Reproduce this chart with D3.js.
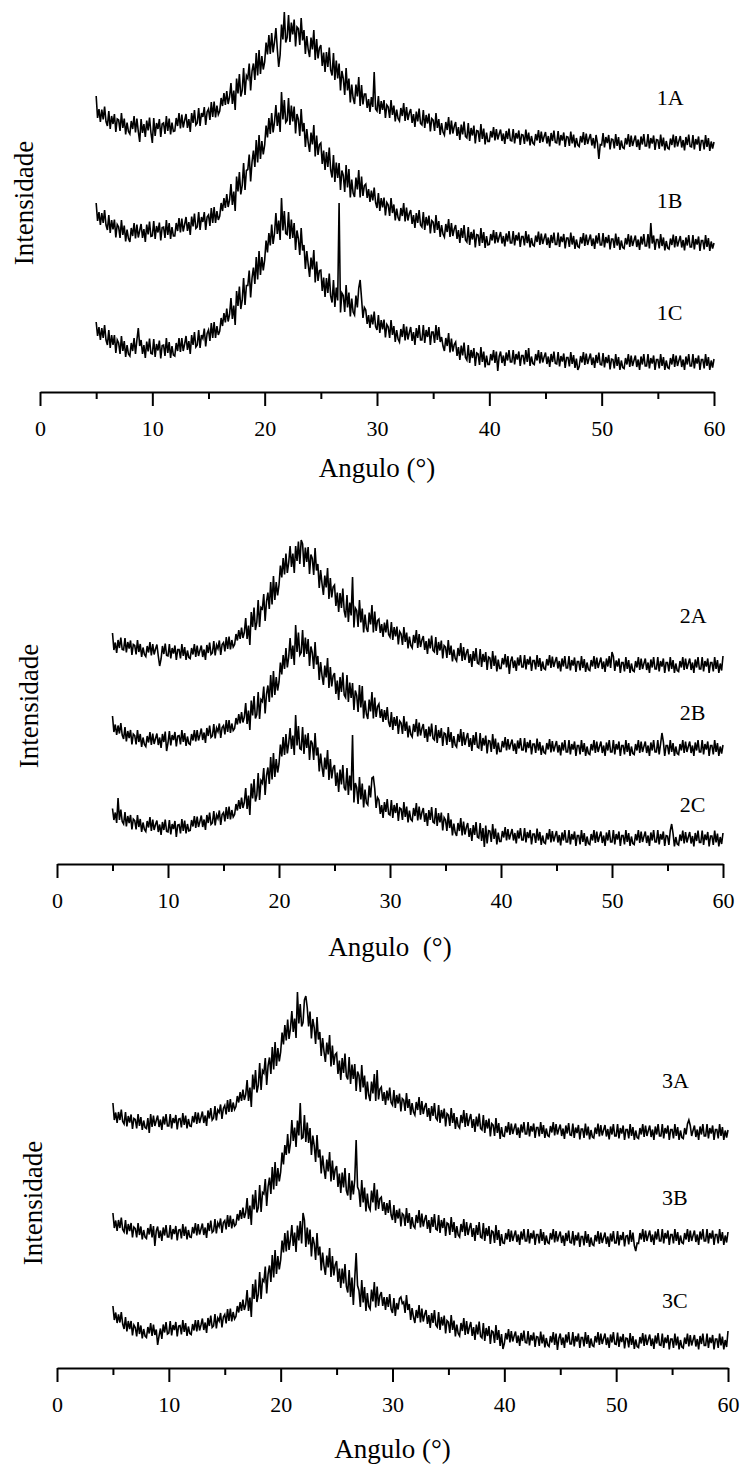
<!DOCTYPE html>
<html>
<head>
<meta charset="utf-8">
<script src="https://cdn.jsdelivr.net/npm/d3@7"></script>
<style>
  body { margin: 0; background: #fff; }
  svg text { font-family: "Liberation Serif", "Times New Roman", serif; fill: #000; white-space: pre; }
</style>
</head>
<body>
<svg id="chart" width="743" height="1465"></svg>
<script>
// XRD patterns, intensity (counts) sampled every 0.125 deg from 5 to 60 deg
const angleStart = 5
const angleStep = 0.125

const s1A = [
  592,548,566,540,565,545,571,541, 532,562,526,552,536,556,520,546,
  544,522,558,528,547,515,539,521, 516,542,526,552,519,547,521,500,
  546,518,536,510,543,523,549,519, 498,548,512,538,526,546,510,536,
  538,516,552,522,547,515,539,521, 522,548,532,558,527,555,529,543,
  556,528,546,520,558,538,564,534, 538,568,532,558,550,570,534,560,
  566,544,580,550,581,549,573,555, 562,588,572,598,574,602,576,590,
  618,576,603,564,627,597,636,591, 603,648,594,633,627,657,603,642,
  657,624,678,633,684,636,672,645, 660,699,675,714,676,718,679,700,
  728,686,650,674,735,705,760,699, 709,754,700,739,715,745,691,730,
  727,694,748,703,724,676,712,685, 670,709,685,724,664,706,667,688,
  694,652,679,640,680,650,689,644, 633,678,624,663,627,657,603,642,
  627,594,648,603,627,579,615,588, 576,615,591,630,572,614,575,596,
  596,568,586,560,590,570,640,566, 562,592,556,582,564,584,548,574,
  570,548,584,554,573,541,565,547, 542,568,552,578,542,570,544,558,
  566,538,556,530,561,541,567,537, 534,564,528,554,537,557,521,547,
  544,522,558,528,546,514,538,520, 514,540,524,550,515,543,517,531,
  540,512,530,504,535,515,541,511, 508,538,502,528,513,533,497,523,
  522,500,536,506,527,495,519,501, 501,522,509,530,503,526,505,516,
  525,502,517,496,522,506,527,503, 502,526,497,518,507,523,494,515,
  514,496,525,501,519,493,512,498, 495,516,503,524,498,521,500,511,
  520,497,512,491,518,502,523,499, 498,522,493,514,503,519,490,511,
  510,492,521,497,515,489,508,494, 491,512,499,520,494,517,496,507,
  516,493,508,487,514,498,466,495, 494,518,489,510,498,514,485,506,
  505,487,516,492,510,484,503,489, 487,508,495,516,490,513,492,503,
  513,490,505,484,511,495,516,492, 492,516,487,508,497,513,484,505,
  504,486,515,491,509,483,502,488, 486,507,494,515,489,512,491,502,
  512,489,504,483,510,494,515,491, 490,514,485,506,495,511,482,503,
  503,485,514,490,508,482,501,487,
  500]
const s1B = [
  378,342,360,334,358,338,364,334, 324,354,318,344,325,345,309,335,
  330,308,344,314,333,301,325,307, 300,328,312,338,307,335,309,323,
  336,308,326,300,335,315,341,311, 312,342,306,332,319,339,303,329,
  330,308,344,314,338,306,330,312, 312,338,322,348,319,347,321,335,
  350,322,340,314,351,331,357,327, 330,360,324,350,340,360,324,350,
  354,332,368,338,370,338,362,344, 352,378,362,388,368,396,370,384,
  416,374,401,362,431,401,440,395, 413,458,404,443,445,475,421,460,
  483,450,504,459,514,466,502,475, 494,533,509,548,516,558,519,540,
  574,532,559,520,600,545,584,539, 543,588,534,573,541,571,517,556,
  545,512,566,521,538,490,526,499, 480,519,495,534,471,513,474,495,
  498,456,483,444,480,450,489,444, 429,474,420,459,428,458,404,443,
  433,400,454,409,446,389,425,398, 390,429,405,444,389,431,392,413,
  416,388,406,380,403,383,409,379, 368,398,362,388,369,389,353,379,
  374,352,388,358,375,343,367,349, 342,368,352,378,341,369,343,357,
  364,336,354,328,358,338,364,334, 330,360,324,350,333,353,317,343,
  340,318,354,324,342,310,334,316, 310,336,320,346,310,338,312,326,
  334,306,324,298,328,308,334,304, 300,330,294,320,305,325,289,315,
  314,292,328,298,320,288,312,294, 295,316,303,324,297,320,299,310,
  320,297,312,291,317,301,322,298, 298,322,293,314,303,319,290,311,
  311,293,322,298,315,289,308,294, 292,313,300,321,294,317,296,307,
  317,294,309,288,314,298,319,295, 295,319,290,311,300,316,287,308,
  308,290,319,295,312,286,305,291, 289,310,297,318,292,315,294,305,
  315,292,307,286,313,297,318,294, 294,318,289,310,298,314,285,306,
  306,288,317,293,310,284,303,289, 287,308,295,316,290,313,292,303,
  313,290,305,284,311,295,316,292, 292,316,287,338,297,313,284,305,
  305,287,316,292,309,283,302,288, 286,307,294,315,289,312,291,302,
  312,289,304,283,309,293,314,290, 290,314,285,306,295,311,282,303,
  303,285,314,290,308,282,301,287,
  298]
const s1C = [
  140,112,130,104,128,108,134,104, 94,124,88,114,94,114,78,104,
  98,76,112,82,102,70,94,76, 72,98,82,108,76,104,128,92,
  104,76,94,68,101,81,107,77, 76,106,70,96,83,103,67,93,
  94,72,108,78,100,68,92,74, 72,98,82,108,80,108,82,96,
  112,84,102,76,114,94,120,90, 94,124,88,114,107,127,91,117,
  124,102,138,108,140,108,132,114, 122,148,132,158,139,167,141,155,
  188,146,173,134,202,172,211,166, 183,228,174,213,213,243,189,228,
  249,216,270,225,282,234,270,243, 264,303,279,318,293,335,296,317,
  358,316,343,304,388,323,362,317, 315,360,306,345,308,338,284,323,
  307,274,328,283,294,246,282,255, 230,269,245,284,219,261,222,243,
  244,202,229,190,228,198,237,192, 179,224,170,209,183,378,159,198,
  193,160,214,169,199,151,187,160, 154,193,169,208,224,187,148,169,
  164,136,154,128,155,135,161,131, 124,154,118,144,125,145,109,135,
  130,108,144,114,132,100,124,106, 100,126,110,136,103,131,105,119,
  130,102,120,94,128,108,134,104, 104,134,98,124,110,130,94,120,
  120,98,134,104,130,100,110,92, 82,108,92,118,79,107,81,95,
  100,72,90,64,93,73,99,69, 64,94,58,84,68,88,52,78,
  76,54,90,60,81,49,73,55, 55,76,63,84,58,81,42,71,
  81,58,73,52,79,63,84,60, 60,84,55,76,65,81,52,73,
  73,55,84,60,88,52,71,57, 55,76,63,84,57,80,59,70,
  79,56,71,50,76,60,81,57, 56,80,51,72,61,77,48,69,
  69,51,80,56,74,48,67,44, 51,72,59,80,54,77,56,67,
  77,54,69,48,74,58,79,55, 54,78,49,70,58,74,45,66,
  65,47,76,52,70,44,63,49, 47,68,55,76,50,73,52,63,
  73,50,65,44,71,55,76,52, 52,76,47,68,57,73,44,65,
  65,47,76,52,70,44,63,49, 47,68,55,76,50,73,52,63,
  73,50,65,44,71,55,76,52, 52,76,47,68,57,73,44,65,
  65,47,76,52,70,44,63,49,
  66]

const s2A = [
  462,428,443,422,448,432,453,429, 428,452,423,444,431,447,418,439,
  437,419,448,424,440,414,433,419, 415,436,423,444,417,440,419,430,
  439,416,396,410,436,420,441,417, 416,440,411,432,421,437,408,429,
  429,411,440,416,434,408,427,413, 411,432,419,440,414,437,416,427,
  437,414,429,408,438,422,443,419, 422,446,417,438,431,447,418,439,
  443,425,454,430,455,429,448,434, 439,460,447,468,450,473,452,463,
  492,450,477,438,504,474,513,468, 483,528,474,513,510,540,486,525,
  543,510,564,519,576,528,564,537, 558,597,573,612,579,621,582,603,
  636,594,621,582,636,606,645,600, 648,640,594,633,604,634,580,619,
  611,578,632,587,600,552,588,561, 538,577,553,592,530,572,533,554,
  558,516,543,504,542,512,551,506, 493,538,484,523,497,574,473,512,
  507,474,528,483,511,463,499,472, 464,503,479,518,463,505,466,487,
  490,462,480,454,483,463,489,459, 454,484,448,474,455,475,439,465,
  460,438,474,444,463,431,455,437, 432,458,442,468,432,460,434,448,
  456,428,446,420,451,431,457,427, 424,454,418,444,427,447,411,437,
  434,412,448,418,437,405,429,411, 406,432,416,442,406,434,408,422,
  430,402,420,394,426,406,432,402, 400,430,394,420,404,424,388,414,
  412,390,426,396,417,385,409,391, 391,412,399,420,393,416,380,406,
  415,392,407,386,413,397,418,394, 394,418,389,410,399,415,386,407,
  407,389,418,394,412,386,405,391, 389,410,397,418,392,415,394,405,
  414,391,406,385,411,395,416,392, 392,416,387,408,397,413,384,405,
  405,387,416,392,410,384,403,389, 387,408,395,416,390,413,392,403,
  413,390,405,384,411,395,416,392, 424,415,386,407,395,411,382,403,
  403,385,414,390,408,382,401,387, 385,406,393,414,388,411,390,401,
  411,388,403,382,409,393,414,390, 390,414,385,406,395,411,382,403,
  403,385,414,390,408,382,401,387, 385,406,393,414,388,411,390,401,
  411,388,403,382,409,393,414,390, 390,414,385,406,395,411,382,403,
  403,385,414,390,408,382,401,387,
  416]
const s2B = [
  296,264,279,258,277,261,282,258, 250,274,245,266,252,268,239,260,
  257,239,268,244,260,234,253,239, 235,256,243,264,238,261,240,251,
  261,238,253,232,260,244,265,226, 242,266,237,258,248,264,235,256,
  257,239,268,244,262,236,255,241, 239,260,247,268,245,268,247,258,
  271,248,263,242,272,256,277,253, 256,280,251,272,265,281,252,273,
  277,259,288,264,288,262,281,267, 271,292,279,300,281,304,283,294,
  322,280,307,268,327,297,336,291, 299,344,290,329,325,355,301,340,
  357,324,378,333,386,338,374,347, 364,403,379,418,390,432,393,414,
  452,410,437,398,478,424,463,418, 423,468,414,453,420,450,396,435,
  423,390,444,399,416,368,404,377, 358,397,373,412,352,394,355,376,
  382,340,367,328,374,344,383,338, 333,378,324,363,332,362,308,347,
  337,304,358,313,356,291,327,300, 290,329,305,344,291,333,294,315,
  320,292,310,284,308,288,314,284, 274,304,268,294,276,296,260,286,
  282,260,296,266,285,253,277,259, 254,280,264,290,255,283,257,271,
  280,252,270,244,275,255,281,251, 248,278,242,268,252,272,236,262,
  260,238,274,244,264,232,256,238, 234,260,244,270,236,264,238,252,
  262,234,252,226,258,238,264,234, 232,262,226,252,237,257,221,247,
  246,224,260,230,251,219,243,225, 225,246,233,254,227,250,229,240,
  249,226,241,220,247,231,252,228, 228,252,223,244,232,248,219,240,
  240,222,251,227,244,218,237,223, 221,242,229,250,223,246,225,236,
  246,223,238,217,243,227,248,224, 224,248,219,240,229,245,216,237,
  237,219,248,224,242,216,235,221, 219,240,227,248,222,245,224,235,
  245,222,237,216,243,227,248,224, 224,248,219,240,229,245,216,237,
  237,219,248,224,242,216,235,221, 219,240,227,248,222,245,224,235,
  245,222,237,216,243,227,248,224, 224,248,219,240,262,245,216,237,
  237,219,248,224,242,216,235,221, 219,240,227,248,222,245,224,235,
  245,222,237,216,243,227,248,224, 224,248,219,240,229,245,216,237,
  237,219,248,224,242,216,235,221,
  238]
const s2C = [
  111,88,103,82,132,88,109,85, 80,104,75,96,82,98,69,90,
  87,69,98,74,90,64,83,69, 65,86,73,94,66,89,68,79,
  87,64,79,58,84,68,89,65, 64,88,59,80,70,86,54,78,
  79,61,90,66,87,61,80,66, 67,88,75,96,72,95,74,85,
  97,74,89,68,98,82,103,79, 82,106,77,98,91,107,78,99,
  103,85,114,90,115,89,108,94, 99,120,107,128,110,133,112,123,
  152,110,137,98,161,131,170,125, 137,182,128,167,162,192,138,177,
  193,160,214,169,222,174,210,183, 200,239,215,254,218,260,221,242,
  272,230,257,218,298,237,276,231, 229,274,220,259,232,262,208,247,
  241,208,262,217,233,185,221,194, 174,213,189,228,168,210,171,192,
  198,156,183,144,189,159,198,153, 147,192,138,177,147,258,123,162,
  153,120,174,129,161,113,149,122, 118,157,133,172,174,151,112,133,
  128,100,118,92,124,104,130,100, 98,128,92,118,102,122,86,112,
  110,88,124,94,115,83,107,89, 86,112,96,122,87,115,89,103,
  112,84,102,76,108,88,114,84, 82,112,76,102,83,103,67,93,
  88,66,102,72,89,57,81,63, 56,82,66,92,57,85,59,73,
  82,54,72,46,78,58,84,54, 52,82,46,72,34,77,41,67,
  66,44,80,50,71,39,63,45, 45,66,53,74,47,70,49,60,
  70,47,62,41,67,51,72,48, 48,72,43,64,52,68,39,60,
  60,42,71,47,64,38,57,43, 41,62,49,70,43,66,45,56,
  66,43,58,37,63,47,68,44, 44,68,39,60,49,65,36,57,
  57,39,68,44,62,36,55,41, 39,60,47,68,42,65,44,55,
  65,42,57,36,63,47,68,44, 44,68,39,60,49,65,36,57,
  57,39,68,44,62,36,55,41, 39,60,47,68,42,65,44,55,
  65,42,57,36,63,47,68,44, 44,68,39,60,49,65,36,57,
  56,38,67,80,61,35,54,40, 38,59,46,67,41,64,43,54,
  64,41,56,35,62,46,67,43, 43,67,38,59,48,64,35,56,
  56,38,67,43,61,35,54,40,
  62]

const s3A = [
  530,496,511,490,512,496,517,493, 488,512,483,504,491,507,478,499,
  497,479,508,484,502,476,495,481, 479,500,470,508,482,505,484,495,
  505,482,497,476,503,487,508,484, 484,508,479,500,490,506,477,498,
  499,481,510,486,505,479,498,484, 483,504,491,512,488,511,490,501,
  513,490,505,484,515,499,520,496, 500,524,495,516,511,527,498,519,
  525,507,536,512,538,512,531,517, 523,544,531,552,534,557,536,547,
  576,534,561,522,587,557,596,551, 565,610,556,595,590,620,566,605,
  621,588,642,597,652,604,640,613, 632,671,647,686,655,697,658,679,
  714,672,699,660,752,689,728,683, 691,736,744,721,683,713,659,698,
  681,648,702,657,672,624,660,633, 612,651,627,666,603,645,606,627,
  630,588,615,576,620,590,629,584, 577,622,568,607,578,608,554,593,
  585,552,606,561,585,537,573,546, 534,573,549,588,534,596,537,558,
  562,534,552,526,555,535,561,531, 526,556,520,546,529,549,513,539,
  536,514,550,520,538,506,530,512, 506,532,516,542,506,534,508,522,
  530,502,520,494,524,504,530,500, 496,526,490,516,499,519,483,509,
  506,484,520,490,510,478,502,484, 480,506,490,516,482,510,484,498,
  508,480,498,472,503,483,509,479, 476,506,470,496,479,499,463,489,
  486,464,500,470,490,458,482,464, 463,484,471,492,466,489,468,479,
  489,466,481,460,487,471,492,468, 468,492,463,484,473,489,460,481,
  481,463,492,468,486,460,479,465, 463,484,471,492,465,488,467,478,
  487,464,479,458,485,469,490,466, 465,489,460,481,470,486,457,478,
  478,460,489,465,483,457,476,462, 460,481,468,489,463,486,465,476,
  486,463,478,457,483,467,488,464, 464,488,459,480,469,485,456,477,
  477,459,488,464,482,456,475,461, 459,480,467,488,462,485,464,475,
  485,462,477,456,483,467,488,464, 464,488,459,480,469,485,456,477,
  477,459,488,464,482,456,475,461, 459,480,467,488,496,485,464,475,
  485,462,477,456,483,467,488,464, 464,488,459,480,469,485,456,477,
  477,459,488,464,482,456,475,461,
  476]
const s3B = [
  310,280,295,274,296,280,301,277, 272,296,267,288,274,290,261,282,
  279,261,290,266,283,257,276,262, 259,280,267,288,261,284,244,274,
  283,260,275,254,281,265,286,262, 262,286,257,278,268,284,255,276,
  277,259,288,264,283,257,276,262, 261,282,269,290,265,288,267,278,
  289,266,281,260,290,274,295,271, 274,298,269,290,283,299,270,291,
  295,277,306,282,305,279,298,284, 287,308,295,316,298,321,300,311,
  340,298,325,286,347,317,356,311, 321,366,312,351,348,378,324,363,
  381,348,402,357,412,364,400,373, 392,431,407,446,426,468,429,450,
  496,454,481,442,495,465,530,459, 461,506,452,491,450,480,426,465,
  445,412,466,421,437,389,425,398, 378,417,393,432,373,415,376,397,
  404,362,389,350,391,361,400,355, 345,390,336,375,347,377,456,362,
  355,322,376,331,361,313,349,322, 316,355,331,370,315,357,318,339,
  342,314,332,306,330,310,336,306, 296,326,290,316,299,319,283,309,
  306,284,320,290,310,278,302,284, 280,306,290,316,281,309,283,297,
  306,278,296,270,302,282,308,278, 276,306,270,296,280,300,264,290,
  288,266,302,272,292,260,284,266, 262,288,272,298,264,292,266,280,
  290,262,280,254,286,266,292,262, 260,290,254,280,264,284,248,274,
  272,250,286,256,276,244,268,250, 249,270,257,278,252,275,254,265,
  275,252,267,246,273,257,278,254, 254,278,249,270,259,275,246,267,
  267,249,278,254,272,246,265,251, 249,270,257,278,251,274,253,264,
  273,250,265,244,270,254,275,251, 250,274,245,266,255,271,242,263,
  263,245,274,250,268,242,261,247, 245,266,253,274,248,271,250,261,
  271,248,263,242,269,253,274,250, 250,274,245,266,256,272,243,264,
  265,247,276,252,271,245,234,250, 249,270,257,278,252,275,254,265,
  275,252,267,246,273,257,278,254, 254,278,249,270,259,275,246,267,
  267,249,278,254,272,246,265,251, 249,270,257,278,252,275,254,265,
  275,252,267,246,273,257,278,254, 254,278,249,270,259,275,246,267,
  267,249,278,254,272,246,265,251,
  272]
const s3C = [
  124,96,111,90,107,91,112,88, 78,102,73,94,78,94,65,86,
  81,63,92,68,85,59,78,64, 61,82,69,90,64,87,66,77,
  46,64,79,58,87,71,92,68, 70,94,65,86,76,92,63,84,
  85,67,96,72,90,64,83,69, 67,88,75,96,73,96,75,86,
  99,76,91,70,100,84,105,81, 84,108,79,100,94,110,81,102,
  107,89,118,94,119,93,112,98, 103,124,111,132,114,137,116,127,
  156,114,141,102,168,138,177,132, 147,192,138,177,173,203,149,188,
  205,172,226,181,236,188,224,197, 216,255,231,270,233,275,236,257,
  286,244,271,232,285,255,294,249, 310,296,242,281,247,277,223,262,
  249,216,270,225,243,195,231,204, 186,225,201,240,182,224,185,206,
  214,172,199,160,199,169,208,163, 151,196,142,181,126,180,230,165,
  155,122,176,131,162,114,150,123, 118,157,133,172,121,163,124,145,
  152,124,142,116,142,122,148,118, 110,140,104,130,117,139,142,129,
  132,110,146,116,128,96,120,102, 90,116,100,126,91,119,93,107,
  116,88,106,80,110,90,116,86, 82,112,76,102,85,105,69,95,
  92,70,106,76,95,63,87,69, 64,90,74,100,66,94,68,82,
  92,64,82,56,87,67,93,63, 60,90,54,80,64,84,48,74,
  72,50,86,56,76,44,68,38, 49,70,57,78,51,74,53,64,
  73,50,65,44,70,54,75,51, 50,74,45,66,55,71,42,63,
  62,44,73,49,67,41,60,46, 43,64,51,72,46,69,36,59,
  69,46,61,40,67,51,72,48, 48,72,43,64,53,69,40,61,
  61,43,72,48,66,40,59,45, 43,64,51,72,46,69,48,59,
  69,46,61,40,67,51,72,48, 47,71,42,63,52,68,39,60,
  59,41,70,46,64,38,57,43, 41,62,49,70,44,67,46,57,
  67,44,59,38,65,49,70,46, 45,69,40,61,50,66,37,58,
  58,40,69,45,63,37,56,42, 40,61,48,69,43,66,45,56,
  66,43,58,37,64,48,69,45, 45,69,40,61,50,66,37,58,
  58,40,69,45,63,37,56,42,
  74]

const seriesNames = [['1A', '1B', '1C'], ['2A', '2B', '2C'], ['3A', '3B', '3C']]
const seriesData = [[s1A, s1B, s1C], [s2A, s2B, s2C], [s3A, s3B, s3C]]
// height (counts) of each curve name
const labelCounts = [[574, 368, 144], [482, 288, 104], [560, 326, 120]]
const xTitles = ['Angulo (°)', 'Angulo  (°)', 'Angulo (°)']
const yTitle = 'Intensidade'
const majorTicks = [0, 10, 20, 30, 40, 50, 60]
const minorTicks = [5, 15, 25, 35, 45, 55]

const svg = d3.select('#chart')

const layout = [
  {x0: 40, x1: 714, axisY: 392, titleDy: 85, yLabX: 24, yLabY: 203, labAngle: 54.9},
  {x0: 57, x1: 723, axisY: 864, titleDy: 92, yLabX: 29, yLabY: 706, labAngle: 56.1},
  {x0: 57, x1: 728, axisY: 1368, titleDy: 90, yLabX: 33, yLabY: 1203, labAngle: 54.1}
]

layout.map((p, pi) => {

  const x = d3.scaleLinear().domain([0, 60]).range([p.x0, p.x1])
  const y = d3.scaleLinear().domain([0, 800]).range([p.axisY, p.axisY - 400])

  const line = d3.line()
    .x((d, i) => x(angleStart + i * angleStep))
    .y(d => y(d))

  const g = svg.append('g')

  g.selectAll('path.trace')
    .data(seriesData[pi])
    .enter()
    .append('path')
    .attr('class', 'trace')
    .attr('d', line)
    .attr('fill', 'none')
    .attr('stroke', '#000')
    .attr('stroke-width', 1.6)

  // minor ticks
  g.append('g')
    .attr('transform', `translate(0,${p.axisY})`)
    .call(d3.axisBottom(x).tickValues(minorTicks).tickSize(7).tickSizeOuter(0).tickFormat(''))
    .call(a => a.select('.domain').remove())
    .selectAll('line').attr('stroke-width', 2)

  const ax = g.append('g')
    .attr('transform', `translate(0,${p.axisY})`)
    .call(d3.axisBottom(x).tickValues(majorTicks).tickSize(14).tickSizeOuter(0).tickFormat(d3.format('d')))

  ax.select('.domain').attr('stroke-width', 2)
  ax.selectAll('.tick line').attr('stroke-width', 2)
  ax.attr('font-family', null).attr('font-size', null)
  ax.selectAll('.tick text')
    .attr('y', 44)
    .attr('dy', 0)
    .style('font-size', '22px')

  g.append('text')
    .attr('x', (p.x0 + p.x1) / 2)
    .attr('y', p.axisY + p.titleDy)
    .attr('text-anchor', 'middle')
    .style('font-size', '27px')
    .text(xTitles[pi])

  g.append('text')
    .attr('transform', `translate(${p.yLabX},${p.yLabY}) rotate(-90)`)
    .attr('text-anchor', 'middle')
    .attr('dy', '0.35em')
    .style('font-size', '27px')
    .text(yTitle)

  g.selectAll('text.lab')
    .data(seriesNames[pi])
    .enter()
    .append('text')
    .attr('class', 'lab')
    .attr('x', x(p.labAngle))
    .attr('y', (d, i) => y(labelCounts[pi][i]))
    .style('font-size', '22px')
    .text(d => d)
})
</script>
</body>
</html>
